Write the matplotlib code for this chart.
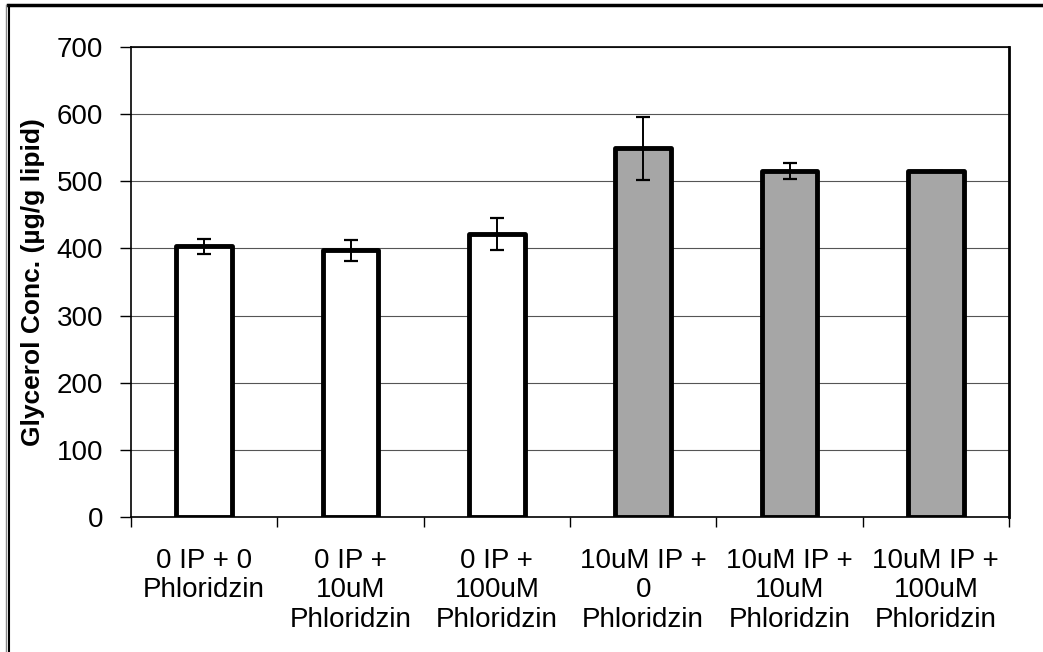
import numpy as np
import matplotlib
matplotlib.use("Agg")
import matplotlib.pyplot as plt
from matplotlib.lines import Line2D

categories = ["0 IP + 0\nPhloridzin", "0 IP +\n10uM\nPhloridzin", "0 IP +\n100uM\nPhloridzin",
              "10uM IP +\n0\nPhloridzin", "10uM IP +\n10uM\nPhloridzin", "10uM IP +\n100uM\nPhloridzin"]
glycerol = [403, 397, 421, 549, 515, 515]
errors = [11, 16, 24, 47, 12, 0]
fills = ["white", "white", "white", "#a6a6a6", "#a6a6a6", "#a6a6a6"]

plt.rcParams["font.family"] = ["Liberation Sans", "DejaVu Sans"]

fig = plt.figure(figsize=(10.43, 6.52), dpi=100)
ax = fig.add_axes([131 / 1043, 1 - 517.3 / 652, 878 / 1043, (517.3 - 46.7) / 652])

x = np.arange(len(categories))
ax.bar(x, glycerol, width=0.38, color=fills, edgecolor="black", linewidth=3.5,
       joinstyle="round", zorder=3)
ax.errorbar(x, glycerol, yerr=errors, fmt="none", ecolor="black", elinewidth=1.4,
            capsize=5, capthick=1.6, zorder=4)

ax.set_xlim(-0.5, len(categories) - 0.5)
ax.set_ylim(0, 700)
ax.set_yticks(np.arange(0, 701, 100))
ax.grid(axis="y", color="#555555", linewidth=0.8, zorder=0)

ax.set_xticks(x)
ax.set_xticklabels(categories, fontsize=20, linespacing=1.17)
ax.set_xticks(np.arange(-0.5, len(categories), 1), minor=True)
ax.tick_params(axis="x", which="major", length=0, pad=22)
ax.tick_params(axis="x", which="minor", length=7, width=1, direction="out")
ax.tick_params(axis="y", labelsize=20, length=8, width=1, pad=12, direction="out")

for side in ["left", "bottom", "top"]:
    ax.spines[side].set_linewidth(1.2)
ax.spines["right"].set_linewidth(2)

fig.text(33 / 1043, 1 - 282 / 652, "Glycerol Conc. (µg/g lipid)", rotation=90,
         ha="center", va="center", fontsize=19, fontweight="bold")

# outer chart frame (top and left only visible)
fig.add_artist(Line2D([8 / 1043, 1], [1 - 5 / 652, 1 - 5 / 652], color="black", linewidth=2.5))
fig.add_artist(Line2D([9 / 1043, 9 / 1043], [0, 1 - 5 / 652], color="black", linewidth=1.5))
fig.add_artist(Line2D([6 / 1043, 6 / 1043], [0, 1 - 5 / 652], color="#888888", linewidth=1))

fig.savefig("out.png", dpi=100)
